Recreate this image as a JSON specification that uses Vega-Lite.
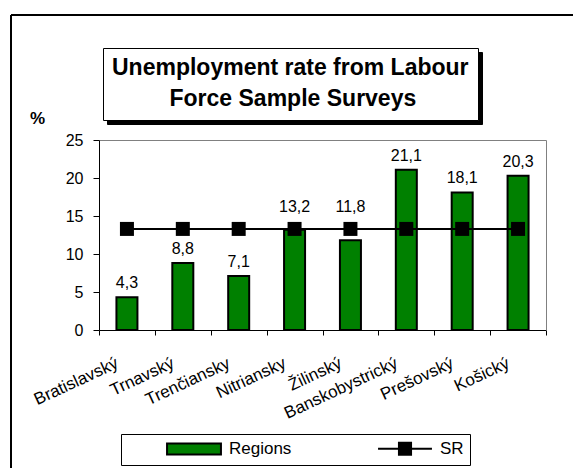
{
  "$schema": "https://vega.github.io/schema/vega-lite/v6.json",
  "width": 562,
  "height": 453,
  "autosize": {"type": "none"},
  "padding": {"left": 11, "top": 15, "right": 0, "bottom": 0},
  "background": "white",
  "config": {
    "font": "Liberation Sans",
    "view": {"stroke": "black", "strokeWidth": 2, "strokeDash": [562, 1015, 453, 0]},
    "locale": {"number": {"decimal": ",", "thousands": " ", "grouping": [3], "currency": ["", ""]}}
  },
  "data": {
    "values": [
      {"region": "Bratislavský", "rate": 4.3, "SR": 13.3, "series": "Regions"},
      {"region": "Trnavský", "rate": 8.8, "SR": 13.3, "series": "Regions"},
      {"region": "Trenčiansky", "rate": 7.1, "SR": 13.3, "series": "Regions"},
      {"region": "Nitriansky", "rate": 13.2, "SR": 13.3, "series": "Regions"},
      {"region": "Žilinský", "rate": 11.8, "SR": 13.3, "series": "Regions"},
      {"region": "Banskobystrický", "rate": 21.1, "SR": 13.3, "series": "Regions"},
      {"region": "Prešovský", "rate": 18.1, "SR": 13.3, "series": "Regions"},
      {"region": "Košický", "rate": 20.3, "SR": 13.3, "series": "Regions"}
    ]
  },
  "layer": [
    {
      "mark": {"type": "bar", "size": 21, "stroke": "black", "strokeWidth": 2},
      "encoding": {
        "x": {
          "field": "region", "type": "nominal", "sort": null,
          "scale": {"range": [88, 535], "paddingInner": 0, "paddingOuter": 0},
          "axis": {
            "orient": "bottom", "offset": -138, "title": null,
            "domainColor": "black", "domainWidth": 1,
            "tickColor": "black", "tickSize": 5, "tickBand": "extent",
            "labelAngle": -25, "labelAlign": "right", "labelBaseline": "middle",
            "labelPadding": 27, "labelOffset": -10, "labelFontSize": 17,
            "labelColor": "black", "labelOverlap": false, "labelBound": false, "grid": false
          }
        },
        "y": {
          "field": "rate", "type": "quantitative",
          "scale": {"domain": [0, 25], "range": [315, 125], "nice": false},
          "axis": {
            "orient": "left", "offset": -88, "values": [0, 5, 10, 15, 20, 25],
            "title": "%", "titleAngle": 0, "titleX": -62, "titleY": 108,
            "titleAlign": "center", "titleBaseline": "alphabetic",
            "titleFontSize": 17, "titleFontWeight": "bold", "titleColor": "black",
            "domainColor": "black", "tickColor": "black", "tickSize": 6,
            "labelPadding": 10, "labelFontSize": 16, "labelColor": "black", "grid": false
          }
        },
        "color": {
          "field": "series", "type": "nominal",
          "scale": {"domain": ["Regions", "SR"], "range": ["#008000", "#000000"]},
          "legend": {
            "title": null, "orient": "none", "legendX": 110, "legendY": 419,
            "direction": "horizontal", "columns": 2, "gridAlign": "all",
            "columnPadding": 46, "padding": 6, "symbolOffset": 58.5,
            "symbolSize": 121,
            "symbolType": {"expr": "datum.value === 'SR' ? 'M-4.9,0H4.9M-1.1,-1.1H1.1V1.1H-1.1Z' : 'M-4.9,-1H4.9V1H-4.9Z'"},
            "symbolStrokeColor": "black", "symbolStrokeWidth": 2,
            "labelFontSize": 17, "labelColor": "black",
            "labelOffset": 26.5, "labelLimit": 300,
            "strokeColor": "black", "fillColor": "white"
          }
        }
      }
    },
    {
      "mark": {"type": "line", "color": "black", "strokeWidth": 2},
      "encoding": {
        "x": {
          "field": "region", "type": "nominal", "sort": null,
          "axis": {"orient": "top", "offset": -125, "domainColor": "#808080", "ticks": false, "labels": false, "title": null, "grid": false}
        },
        "y": {
          "field": "SR", "type": "quantitative",
          "axis": {"orient": "right", "offset": -27, "domainColor": "#808080", "ticks": false, "labels": false, "title": null, "grid": false}
        }
      }
    },
    {
      "mark": {"type": "point", "filled": true, "color": "black", "opacity": 1},
      "encoding": {
        "x": {"field": "region", "type": "nominal", "sort": null, "axis": null},
        "y": {"field": "SR", "type": "quantitative", "axis": null},
        "shape": {
          "datum": "title", "type": "nominal",
          "scale": {"domain": ["title"], "range": ["square"]},
          "legend": {
            "title": ["Unemployment rate from Labour", "\u200b\u00a0\u00a0\u00a0\u00a0\u00a0\u00a0\u00a0\u00a0\u00a0Force Sample Surveys"],
            "values": [], "orient": "none", "legendX": 92, "legendY": 33,
            "padding": 9, "strokeColor": "black", "fillColor": "white",
            "titleFontSize": 23, "titleFontWeight": "bold", "titleColor": "black",
            "titleAlign": "left", "titleAnchor": "start", "titleLineHeight": 31,
            "titlePadding": 0, "titleLimit": 1000, "zindex": 2
          }
        },
        "size": {
          "datum": 1, "type": "quantitative",
          "scale": {"domain": [0, 1], "range": [196, 196]},
          "legend": {
            "title": ["Unemployment rate from Labour", "\u200b\u00a0\u00a0\u00a0\u00a0\u00a0\u00a0\u00a0\u00a0\u00a0Force Sample Surveys"],
            "values": [], "orient": "none", "legendX": 96, "legendY": 37,
            "padding": 9, "strokeColor": "black", "fillColor": "black",
            "titleFontSize": 23, "titleFontWeight": "bold", "titleColor": "black",
            "titleAlign": "left", "titleAnchor": "start", "titleLineHeight": 31,
            "titlePadding": 0, "titleLimit": 1000, "zindex": 1
          }
        }
      }
    },
    {
      "transform": [{"filter": "datum.rate >= datum.SR || datum.rate < datum.SR - 3"}],
      "mark": {"type": "text", "dy": -9, "fontSize": 16, "color": "black", "baseline": "alphabetic"},
      "encoding": {
        "x": {"field": "region", "type": "nominal", "sort": null, "axis": null},
        "y": {"field": "rate", "type": "quantitative", "axis": null},
        "text": {"field": "rate", "type": "quantitative", "format": ".1f"}
      }
    },
    {
      "transform": [{"filter": "datum.rate < datum.SR && datum.rate >= datum.SR - 3"}],
      "mark": {"type": "text", "dy": -17, "fontSize": 16, "color": "black", "baseline": "alphabetic"},
      "encoding": {
        "x": {"field": "region", "type": "nominal", "sort": null, "axis": null},
        "y": {"field": "SR", "type": "quantitative", "axis": null},
        "text": {"field": "rate", "type": "quantitative", "format": ".1f"}
      }
    }
  ],
  "resolve": {"axis": {"x": "independent", "y": "independent"}}
}
